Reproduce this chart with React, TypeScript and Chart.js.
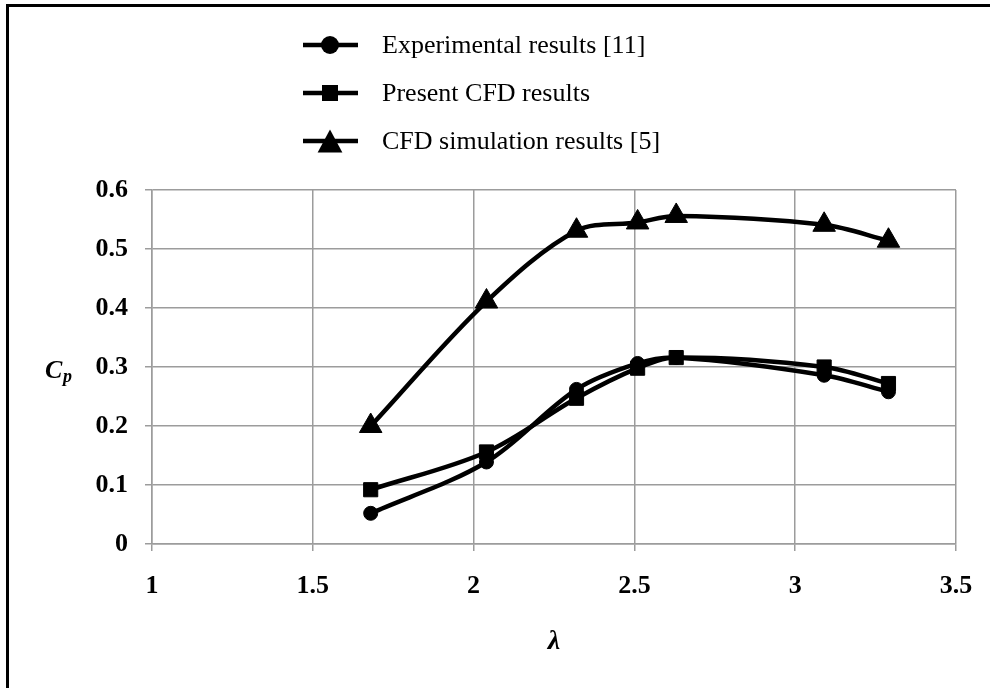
import { useEffect, useRef } from 'react';
import { Chart, registerables } from 'chart.js';

Chart.register(...registerables);

const lambdaValues = [1.68, 2.04, 2.32, 2.51, 2.63, 3.09, 3.29];
const experimentalCp = [0.052, 0.139, 0.262, 0.306, 0.316, 0.286, 0.258];
const presentCfdCp = [0.092, 0.156, 0.247, 0.298, 0.316, 0.300, 0.272];
const cfdSimulationCp = [0.2, 0.411, 0.531, 0.545, 0.556, 0.541, 0.514];
const seriesLabels = ['Experimental results [11]', 'Present CFD results', 'CFD simulation results [5]'];
const seriesStyles = ['circle', 'rect', 'triangle'];
const xTickValues = [1, 1.5, 2, 2.5, 3, 3.5];
const yTickValues = [0, 0.1, 0.2, 0.3, 0.4, 0.5, 0.6];

const FONT = '"Liberation Serif", "Times New Roman", serif';
const GRID = '#9c9c9c';

function drawMarker(ctx: CanvasRenderingContext2D, style: string, x: number, y: number, r: number) {
  ctx.beginPath();
  if (style === 'circle') {
    ctx.arc(x, y, r, 0, Math.PI * 2);
  } else if (style === 'rect') {
    ctx.rect(x - r, y - r, 2 * r, 2 * r);
  } else {
    const h = r * 1.6;
    const w = r * 1.75;
    ctx.moveTo(x, y - h / 2 - 1);
    ctx.lineTo(x + w / 2 + 1, y + h / 2 + 1);
    ctx.lineTo(x - w / 2 - 1, y + h / 2 + 1);
    ctx.closePath();
  }
  ctx.fillStyle = '#000';
  ctx.fill();
}

const overlayPlugin = {
  id: 'overlay',
  afterDraw(chart: any) {
    const ctx: CanvasRenderingContext2D = chart.ctx;
    ctx.save();
    const legendR: Record<string, number> = { circle: 9, rect: 8, triangle: 13 };
    chart.data.datasets.forEach((ds: any, i: number) => {
      const y = 45 + i * 48;
      ctx.strokeStyle = '#000';
      ctx.lineWidth = 4.5;
      ctx.lineCap = 'butt';
      ctx.beginPath();
      ctx.moveTo(303, y);
      ctx.lineTo(358, y);
      ctx.stroke();
      drawMarker(ctx, ds.pointStyle, 330, y, legendR[ds.pointStyle]);
      ctx.font = '26px ' + FONT;
      ctx.fillStyle = '#000';
      ctx.textAlign = 'left';
      ctx.textBaseline = 'middle';
      ctx.fillText(ds.label, 382, y + 1);
    });
    // y axis title C_p
    ctx.fillStyle = '#000';
    ctx.textAlign = 'left';
    ctx.textBaseline = 'alphabetic';
    ctx.font = 'italic bold 26px ' + FONT;
    ctx.fillText('C', 45, 378);
    ctx.font = 'italic bold 18px ' + FONT;
    ctx.fillText('p', 63, 382);
    // x axis title lambda
    ctx.font = 'italic bold 28px ' + FONT;
    ctx.textAlign = 'center';
    ctx.fillText('λ', 554, 649);
    ctx.restore();
  },
};

export default function App() {
  const canvasRef = useRef<HTMLCanvasElement>(null);

  useEffect(() => {
    document.body.style.margin = '0';
    const canvas = canvasRef.current;
    if (!canvas) return;
    const seriesData = [experimentalCp, presentCfdCp, cfdSimulationCp];
    const chart = new Chart(canvas, {
      type: 'line',
      data: {
        datasets: seriesData.map((vals, i) => ({
          label: seriesLabels[i],
          data: lambdaValues.map((x, j) => ({ x, y: vals[j] })),
          borderColor: '#000',
          backgroundColor: '#000',
          borderWidth: 4.5,
          borderCapStyle: 'round',
          borderJoinStyle: 'round',
          tension: 0.33,
          fill: false,
          pointStyle: seriesStyles[i],
          pointRadius: seriesStyles[i] === 'circle' ? 7 : seriesStyles[i] === 'rect' ? 10 : 13,
          pointBorderWidth: 1,
          pointBorderColor: '#000',
          pointBackgroundColor: '#000',
        })) as any,
      },
      options: {
        responsive: false,
        animation: false,
        devicePixelRatio: 1,
        events: [],
        layout: { padding: { top: 190, right: 34, left: 0, bottom: 0 } },
        plugins: {
          legend: { display: false },
          tooltip: { enabled: false },
          title: { display: false },
        },
        scales: {
          x: {
            type: 'linear',
            min: 1,
            max: 3.5,
            afterBuildTicks: (scale: any) => {
              scale.ticks = xTickValues.map((v) => ({ value: v }));
            },
            afterFit: (scale: any) => {
              scale.height = 144;
              scale.paddingLeft = 0;
              scale.paddingRight = 0;
            },
            grid: { color: GRID, lineWidth: 1.5, tickLength: 7, drawTicks: true },
            border: { color: GRID, width: 1.5 },
            ticks: {
              color: '#000',
              font: { family: FONT, size: 26, weight: 'bold' },
              padding: 20,
              maxRotation: 0,
              callback: (v: any) => String(Number(v)),
            },
          },
          y: {
            type: 'linear',
            min: 0,
            max: 0.6,
            afterBuildTicks: (scale: any) => {
              scale.ticks = yTickValues.map((v) => ({ value: v }));
            },
            afterFit: (scale: any) => {
              scale.width = 152;
              scale.paddingTop = 0;
              scale.paddingBottom = 0;
            },
            grid: { color: GRID, lineWidth: 1.5, tickLength: 7, drawTicks: true },
            border: { color: GRID, width: 1.5 },
            ticks: {
              color: '#000',
              font: { family: FONT, size: 26, weight: 'bold' },
              padding: 17,
              callback: (v: any) => String(Number(v)),
            },
          },
        },
      } as any,
      plugins: [overlayPlugin as any],
    });
    return () => chart.destroy();
  }, []);

  return (
    <div style={{ position: 'relative', width: 990, height: 688, overflow: 'hidden', background: '#fff' }}>
      <div
        style={{
          position: 'absolute',
          left: 6,
          top: 4,
          width: 1000,
          height: 700,
          borderLeft: '3px solid #000',
          borderTop: '3px solid #000',
          boxSizing: 'border-box',
        }}
      />
      <canvas ref={canvasRef} width={990} height={688} style={{ position: 'absolute', left: 0, top: 0 }} />
    </div>
  );
}
